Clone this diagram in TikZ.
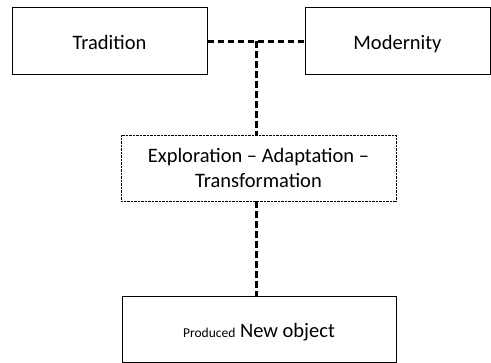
\documentclass[tikz,border=0pt]{standalone}
\usepackage{fontspec}
\setmainfont{Carlito}
\usetikzlibrary{positioning}

\begin{document}
\begin{tikzpicture}[x=1pt, y=-1pt,
    every node/.style={font=\fontsize{20.5}{24.5}\selectfont},
    solidbox/.style={draw, line width=1pt, rectangle, inner sep=0pt, align=center,
      text height=16pt, text depth=0pt},
    dotbox/.style={draw, line width=0.6pt, dash pattern=on 0.8pt off 0.6pt, rectangle, inner sep=0pt, align=center},
    link/.style={line width=2.4pt, dash pattern=on 6.5pt off 3.5pt}]
  \useasboundingbox (0,0) rectangle (491,363);
  % --- top boxes ---
  \node[solidbox, minimum width=195pt, minimum height=67pt] (trad) at (109.5,41.5) {Tradition};
  \node[solidbox, minimum width=185pt, minimum height=67pt] (mod) at (397.5,41.5) {Modernity};
  % --- process box ---
  \node[dotbox, minimum width=275pt, minimum height=66pt] (proc) at (258.5,168)
    {Exploration -- Adaptation --\\Transformation};
  % --- result box ---
  \node[solidbox, minimum width=274pt, minimum height=66pt] (result) at (259,329.5)
    {{\fontsize{13.5}{15}\selectfont Produced} New object};
  % --- dashed links ---
  \coordinate (junc) at (256.5,41.5);
  \draw[link] (trad.east) -- (mod.west);
  \draw[link] (junc) -- (junc |- proc.north);
  \draw[link] (junc |- proc.south) -- (junc |- result.north);
\end{tikzpicture}
\end{document}
